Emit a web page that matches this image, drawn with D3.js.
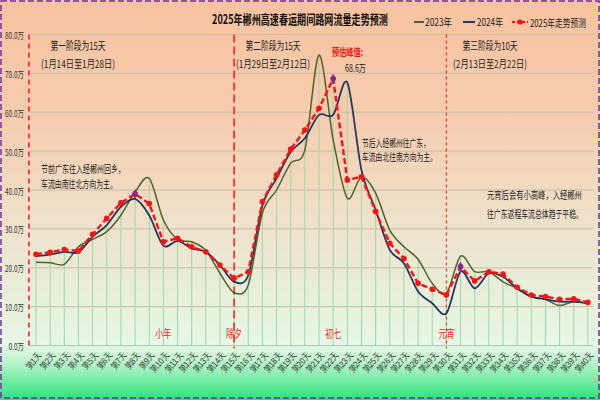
<!DOCTYPE html>
<html><head><meta charset="utf-8">
<script src="https://cdn.jsdelivr.net/npm/d3@7/dist/d3.min.js"></script>
<style>
html,body{margin:0;padding:0;background:#fff;}
svg{display:block;font-family:"Noto Sans CJK SC","Noto Sans",sans-serif;}
</style></head>
<body><svg id="c" width="600" height="400"></svg>
<script>
const categories = ["第1天","第2天","第3天","第4天","第5天","第6天","第7天","第8天","第9天","第10天",
 "第11天","第12天","第13天","第14天","第15天","第16天","第17天","第18天","第19天","第20天",
 "第21天","第22天","第23天","第24天","第25天","第26天","第27天","第28天","第29天","第30天",
 "第31天","第32天","第33天","第34天","第35天","第36天","第37天","第38天","第39天","第40天"];
const s2023 = [21.4,21.3,20.9,25.4,27.3,29.3,33.5,39.5,43.0,32.3,27.3,26.7,24.5,18.6,13.6,15.6,34.1,40.0,46.9,50.3,
 74.7,52.9,37.9,43.4,39.2,29.7,25.4,22.2,16.0,13.4,23.0,19.0,19.0,16.4,14.7,12.6,11.9,10.3,11.3,10.7];
const s2024 = [23.0,23.4,24.1,24.0,28.0,31.0,35.7,37.7,33.5,25.7,26.9,25.0,24.1,20.7,16.4,18.1,36.0,43.0,49.8,53.3,
 59.3,59.3,67.6,45.1,34.9,24.6,21.2,13.9,10.9,8.3,19.0,14.7,18.6,17.7,14.7,12.6,11.9,11.3,11.3,10.9];
const s2025 = [23.5,24.0,24.7,24.3,28.6,32.7,36.7,39.0,36.5,26.7,27.6,25.4,24.1,20.7,17.3,19.0,37.0,43.9,50.5,55.4,
 61.0,68.6,42.6,43.4,34.5,26.3,22.4,16.0,14.5,13.0,20.3,16.6,19.0,18.4,15.0,13.0,12.6,11.9,12.0,11.1];
const yTicks = [0,10,20,30,40,50,60,70,80];
const seriesNames = ["2023年","2024年","2025年走势预测"];
const peakDays = ["第8天","第22天","第31天"];
const eventNames = ["小年","除夕","初七","元宵"];
const eventDays = ["第10天","第15天","第22天","第30天"];
const phaseDays = ["第15天","第30天"];
const phaseTitles = ["第一阶段为15天","第二阶段为15天","第三阶段为10天"];
const phaseDates = ["(1月14日至1月28日)","(1月29日至2月12日)","(2月13日至2月22日)"];
const title = "2025年郴州高速春运期间路网流量走势预测";
const peakLabel = "预估峰值:";
const peakValue = "68.6万";
const note1 = ["节前广东往入经郴州回乡，","车流由南往北方向为主。"];
const note2 = ["节后入经郴州往广东，","车流由北往南方向为主。"];
const note3 = ["元宵后会有小高峰，入经郴州","往广东返程车流总体趋于平稳。"];

const svg = d3.select("#c");
const defs = svg.append("defs");
const g = defs.append("linearGradient").attr("id","bg").attr("x1",0).attr("y1",0).attr("x2",0).attr("y2",1);
[[0,"#f8c2a0"],[0.3,"#f6cdb0"],[0.55,"#efe1ca"],[0.75,"#e8f0dc"],[0.86,"#e6f8e6"],[0.9,"#c2f5d0"],[0.95,"#78eea6"],[1,"#26e479"]]
 .forEach(([o,c])=>g.append("stop").attr("offset",o).attr("stop-color",c));
svg.append("rect").attr("width",600).attr("height",400).attr("fill","url(#bg)");

const x = d3.scalePoint().domain(categories).range([36,587.9]);
const step = x.step();
const xl = x(categories[0]) - step/2, xr = x(categories[categories.length-1]) + step/2;
const y = d3.scaleLinear().domain([0,80]).range([345.6,34.4]);

// horizontal grid
svg.append("g").selectAll("line").data(yTicks.slice(1)).join("line")
 .attr("x1",xl).attr("x2",xr-2).attr("y1",d=>y(d)).attr("y2",d=>y(d))
 .attr("stroke","#c9b9a6").attr("stroke-width",1);

// drop lines
svg.append("g").selectAll("line").data(categories).join("line")
 .attr("x1",d=>x(d)).attr("x2",d=>x(d)).attr("y1",y(0))
 .attr("y2",(d,i)=>y(Math.max(s2023[i],s2024[i],s2025[i])))
 .attr("stroke","#9ed8aa").attr("stroke-width",1);

// x axis line
svg.append("line").attr("x1",xl).attr("x2",xr-2).attr("y1",y(0)).attr("y2",y(0)).attr("stroke","#b9c2b5");

// y axis
const ya = svg.append("g").attr("transform",`translate(24,0)`)
 .call(d3.axisLeft(y).tickValues(yTicks).tickSize(0).tickFormat(d=>d.toFixed(1)+"万"));
ya.select(".domain").remove();
ya.selectAll("text").attr("x",0).attr("dy",null).attr("font-size",9).attr("fill","#333")
 .attr("font-family","'Noto Sans CJK SC',sans-serif").attr("dominant-baseline","central")
 .attr("transform","scale(0.72,1)");

// x axis labels
const xa = svg.append("g").attr("transform",`translate(0,${y(0)})`)
 .call(d3.axisBottom(x).tickSize(0));
xa.select(".domain").remove();
xa.selectAll("text").attr("font-size",9).attr("fill","#333").attr("text-anchor","end")
 .attr("dy",null).attr("y",0)
 .attr("transform","translate(3,8) rotate(-50) scale(0.85,1)")
 .attr("dominant-baseline","central");

// phase dashed lines
const phaseX = [xl].concat(phaseDays.map(d=>x(d)));
const dashes = ["5,4","8,4","3,3"], widths=[1.6,1.6,1.1];
svg.append("g").selectAll("line").data(phaseX).join("line")
 .attr("x1",d=>d).attr("x2",d=>d).attr("y1",y(80)).attr("y2",y(0)+3)
 .attr("stroke","#ff2020").attr("stroke-width",(d,i)=>widths[i]).attr("stroke-dasharray",(d,i)=>dashes[i]);

function txt(t,xx,yy,opt){
 const e = svg.append("text").attr("x",0).attr("y",0).text(t)
  .attr("font-size",opt.size||10).attr("fill",opt.fill||"#222")
  .attr("text-anchor",opt.anchor||"start").attr("dominant-baseline","central");
 if(opt.bold) e.attr("font-weight","bold");
 let k = 1;
 if(opt.w){ const l = e.node().getComputedTextLength(); k = opt.w/l; }
 e.attr("transform",`translate(${xx},${yy}) scale(${k},1)`);
 return e;
}
// phase texts
const phaseCx = [78,273,490];
phaseTitles.forEach((t,i)=>txt(t,phaseCx[i],45,{size:11,anchor:"middle",w:55}));
phaseDates.forEach((t,i)=>txt(t,phaseCx[i],63,{size:11,anchor:"middle",w:74}));

// lines
const line = d3.line().x((d,i)=>x(categories[i])).y(d=>y(d));
svg.append("path").datum(s2023).attr("d",line.curve(d3.curveCardinal.tension(0.1)))
 .attr("fill","none").attr("stroke","#4f6228").attr("stroke-width",1.5);
svg.append("path").datum(s2024).attr("d",line.curve(d3.curveCardinal.tension(0.1)))
 .attr("fill","none").attr("stroke","#1f3864").attr("stroke-width",1.8);
svg.append("path").datum(s2025).attr("d",line.curve(d3.curveLinear))
 .attr("fill","none").attr("stroke","#ff1010").attr("stroke-width",2.4).attr("stroke-dasharray","6,3");
svg.append("g").selectAll("circle").data(s2025).join("circle")
 .attr("cx",(d,i)=>x(categories[i])).attr("cy",d=>y(d)).attr("r",2.8).attr("fill","#ff1010");
svg.append("g").selectAll("path").data(peakDays).join("path")
 .attr("transform",d=>`translate(${x(d)},${y(s2025[categories.indexOf(d)])})`)
 .attr("d",d3.symbol(d3.symbolDiamond,28)).attr("fill","#7030a0");

// event labels
eventNames.forEach((t,i)=>txt(t,x(eventDays[i]),333,{size:11,anchor:"middle",fill:"#ff1a1a",w:16}));

// notes
txt(peakLabel,332,52,{size:10,fill:"#ff1010",bold:true,w:31});
txt(peakValue,345,67,{size:10,w:21});
note1.forEach((t,i)=>txt(t,41,168+i*15,{size:10,w:[84,76][i]}));
note2.forEach((t,i)=>txt(t,362,142+i*14,{size:10,w:[68,75][i]}));
note3.forEach((t,i)=>txt(t,487,195+i*18,{size:10,w:[95,96][i]}));

// title
txt(title,300,18,{size:13,anchor:"middle",bold:true,fill:"#111",w:176});

// legend
const lg = svg.append("g");
lg.append("line").attr("x1",414).attr("x2",424).attr("y1",22).attr("y2",22).attr("stroke","#4f6228").attr("stroke-width",2);
txt(seriesNames[0],425,22,{size:10.5,w:27});
lg.append("line").attr("x1",463).attr("x2",475).attr("y1",22).attr("y2",22).attr("stroke","#1f3864").attr("stroke-width",2);
txt(seriesNames[1],477,22,{size:10.5,w:26});
lg.append("line").attr("x1",512).attr("x2",528).attr("y1",22).attr("y2",22).attr("stroke","#ff1010").attr("stroke-width",2.2).attr("stroke-dasharray","3,2");
lg.append("circle").attr("cx",520).attr("cy",22).attr("r",2.6).attr("fill","#ff1010");
txt(seriesNames[2],530,22,{size:10.5,w:56});

// border
svg.append("rect").attr("x",1).attr("y",1).attr("width",598).attr("height",397)
 .attr("fill","none").attr("stroke","#7030a0").attr("stroke-width",1.5).attr("stroke-dasharray","6,3");
</script></body></html>
